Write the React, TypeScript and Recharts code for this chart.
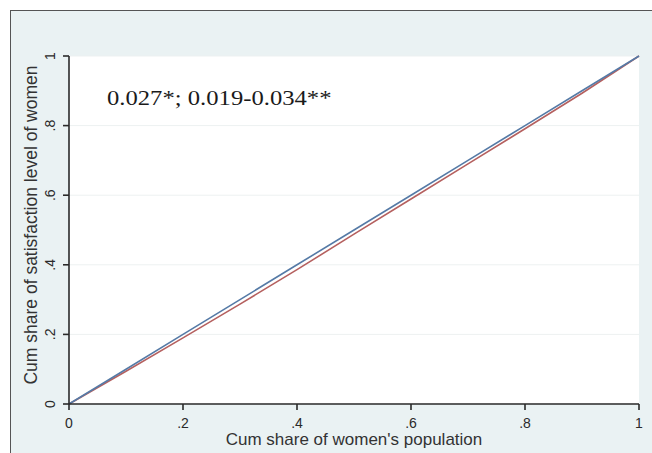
import React from "react"
import { LineChart, Line, XAxis, YAxis, CartesianGrid, Label } from "recharts"

// cumulative share of population (x) and the two curves
const populationShare = [0, 0.1, 0.2, 0.3, 0.4, 0.5, 0.6, 0.7, 0.8, 0.9, 1]
const equalityLine = [0, 0.1, 0.2, 0.3, 0.4, 0.5, 0.6, 0.7, 0.8, 0.9, 1]
const satisfactionShare = [0, 0.094, 0.19, 0.287, 0.386, 0.488, 0.589, 0.69, 0.791, 0.893, 1]

const axisTicks = [0, 0.2, 0.4, 0.6, 0.8, 1]
const tickLabels = ["0", ".2", ".4", ".6", ".8", "1"]

const annotation = "0.027*; 0.019-0.034**"
const xTitle = "Cum share of women's population"
const yTitle = "Cum share of satisfaction level of women"

const data = populationShare.map((x, i) => ({
  x,
  equal: equalityLine[i],
  women: satisfactionShare[i],
}))

const SANS = "'Liberation Sans', Arial, sans-serif"
const label = (v: number) => tickLabels[axisTicks.indexOf(v)] ?? String(v)

function XTick({ x, y, payload }: any) {
  return (
    <text x={x} y={y + 16} textAnchor="middle" fontFamily={SANS} fontSize={14} fill="#2a2a2a">
      {label(payload.value)}
    </text>
  )
}

// Stata-style: y tick labels stand on end
function YTick({ y, payload }: any) {
  const cx = 50
  return (
    <text
      x={cx}
      y={y}
      dy="0.35em"
      textAnchor="middle"
      transform={`rotate(-90, ${cx}, ${y})`}
      fontFamily={SANS}
      fontSize={14}
      fill="#2a2a2a"
    >
      {label(payload.value)}
    </text>
  )
}

function YTitle({ viewBox }: any) {
  const cy = viewBox.y + viewBox.height / 2 - 5
  const cx = 31
  return (
    <text
      x={cx}
      y={cy}
      dy="0.35em"
      textAnchor="middle"
      transform={`rotate(-90, ${cx}, ${cy})`}
      fontFamily={SANS}
      fontSize={17.5}
      fill="#333"
    >
      {yTitle}
    </text>
  )
}

export default function App() {
  return (
    <div style={{ position: "absolute", left: 0, top: 0, width: 652, height: 453, background: "#fff" }}>
      <div
        style={{
          position: "absolute",
          left: 10,
          top: 10,
          right: 0,
          bottom: 0,
          background: "#eaf2f3",
          borderTop: "1.5px solid #555",
          borderLeft: "1.5px solid #555",
        }}
      />
      <div style={{ position: "absolute", left: 0, top: 0 }}>
        <LineChart width={652} height={453} data={data} margin={{ top: 56, right: 13, bottom: 0, left: 10 }}>
          <CartesianGrid horizontal vertical={false} fill="#fff" stroke="#edf1f1" strokeWidth={1} />
          <XAxis
            type="number"
            dataKey="x"
            domain={[0, 1]}
            ticks={axisTicks}
            height={49}
            tick={<XTick />}
            tickSize={6}
            stroke="#2a2a2a"
            strokeWidth={1.6}
          >
            <Label value={xTitle} position="insideBottom" offset={8} fontFamily={SANS} fontSize={17} fill="#333" />
          </XAxis>
          <YAxis
            type="number"
            domain={[0, 1]}
            ticks={axisTicks}
            width={59}
            tick={<YTick />}
            tickSize={6}
            stroke="#2a2a2a"
            strokeWidth={1.6}
          >
            <Label content={<YTitle />} />
          </YAxis>
          <Line
            type="linear"
            dataKey="women"
            stroke="#b5605f"
            strokeWidth={1.6}
            dot={false}
            isAnimationActive={false}
          />
          <Line
            type="linear"
            dataKey="equal"
            stroke="#557aa6"
            strokeWidth={1.6}
            dot={false}
            isAnimationActive={false}
          />
        </LineChart>
      </div>
      <div
        style={{
          position: "absolute",
          left: 107,
          top: 85,
          fontFamily: "'Liberation Serif', 'Times New Roman', serif",
          fontSize: 22,
          color: "#1a1a1a",
          whiteSpace: "nowrap",
          transform: "scaleX(1.12)",
          transformOrigin: "left top",
        }}
      >
        {annotation}
      </div>
    </div>
  )
}
